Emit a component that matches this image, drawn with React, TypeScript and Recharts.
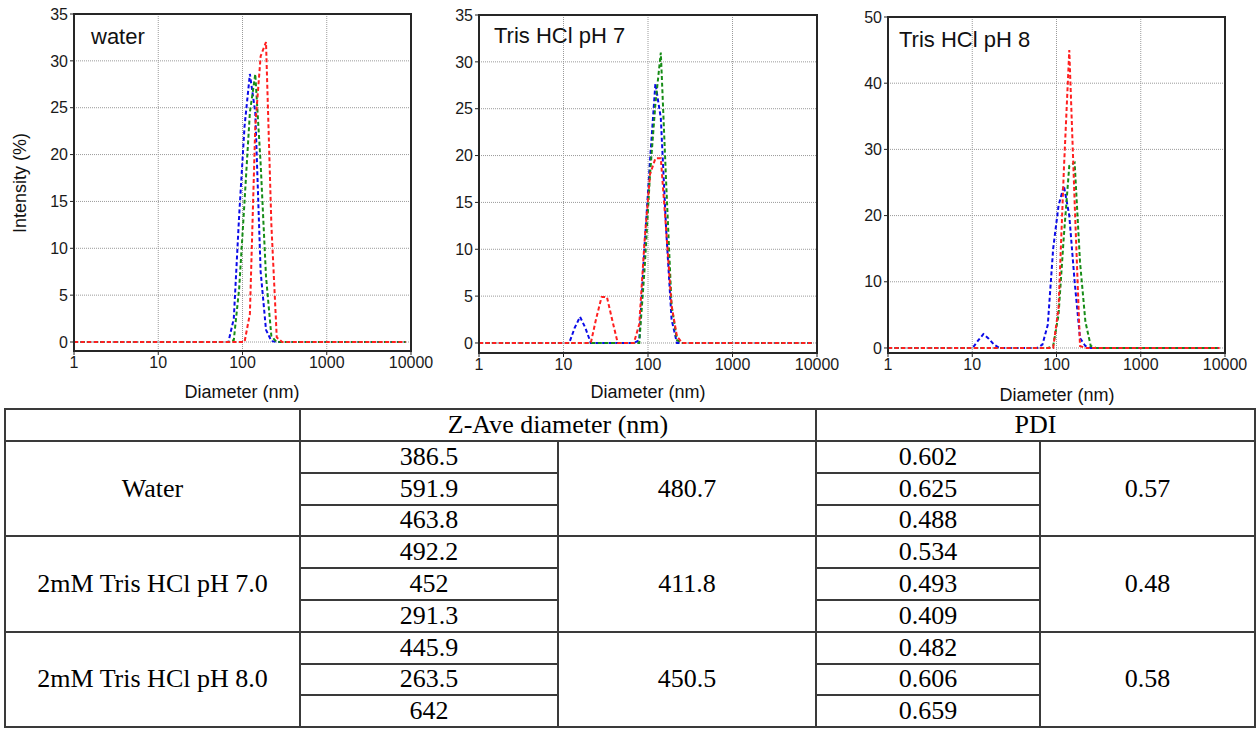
import React from 'react';
import { LineChart, Line, XAxis, YAxis, CartesianGrid } from 'recharts';

type Pt = { x: number; y: number };

// ---- DLS intensity distributions (diameter nm -> intensity %) ----
const waterBlue: Pt[] = [
  { x: 1, y: 0 }, { x: 68.06, y: 0 }, { x: 78.82, y: 2.5 }, { x: 91.28, y: 13.5 }, { x: 105.7, y: 23 },
  { x: 122.4, y: 28.6 }, { x: 141.8, y: 24.5 }, { x: 164.2, y: 7.5 }, { x: 190.1, y: 1.3 },
  { x: 220.2, y: 0.1 }, { x: 255, y: 0 }, { x: 8635, y: 0 },
];
const waterGreen: Pt[] = [
  { x: 1, y: 0 }, { x: 68.06, y: 0 }, { x: 78.82, y: 0.2 }, { x: 91.28, y: 5.7 }, { x: 105.7, y: 15 },
  { x: 122.4, y: 24.5 }, { x: 141.8, y: 28.6 }, { x: 164.2, y: 19 }, { x: 190.1, y: 7 },
  { x: 220.2, y: 0.6 }, { x: 255, y: 0 }, { x: 8635, y: 0 },
];
const waterRed: Pt[] = [
  { x: 1, y: 0 }, { x: 105.7, y: 0 }, { x: 122.4, y: 3 }, { x: 141.8, y: 23 }, { x: 164.2, y: 30.5 },
  { x: 190.1, y: 32 }, { x: 220.2, y: 12.5 }, { x: 255, y: 0.5 }, { x: 295.3, y: 0 }, { x: 8635, y: 0 },
];

const tris7Blue: Pt[] = [
  { x: 1, y: 0 }, { x: 11.7, y: 0 }, { x: 13.54, y: 1.6 }, { x: 15.69, y: 2.8 }, { x: 18.17, y: 1.6 },
  { x: 21.04, y: 0 }, { x: 68.06, y: 0 }, { x: 78.82, y: 0.3 }, { x: 91.28, y: 10.5 }, { x: 105.7, y: 19.5 },
  { x: 122.4, y: 27.7 }, { x: 141.8, y: 24 }, { x: 164.2, y: 12 }, { x: 190.1, y: 2.5 },
  { x: 220.2, y: 0 }, { x: 8635, y: 0 },
];
const tris7Green: Pt[] = [
  { x: 1, y: 0 }, { x: 78.82, y: 0 }, { x: 91.28, y: 8 }, { x: 105.7, y: 18 }, { x: 122.4, y: 25.5 },
  { x: 141.8, y: 31 }, { x: 164.2, y: 17 }, { x: 190.1, y: 4 }, { x: 220.2, y: 0.3 },
  { x: 255, y: 0 }, { x: 8635, y: 0 },
];
const tris7Red: Pt[] = [
  { x: 1, y: 0 }, { x: 21.04, y: 0 }, { x: 24.36, y: 2.6 }, { x: 28.21, y: 4.9 }, { x: 32.67, y: 4.9 },
  { x: 37.84, y: 2.4 }, { x: 43.82, y: 0 }, { x: 68.06, y: 0 }, { x: 78.82, y: 2 }, { x: 91.28, y: 11 },
  { x: 105.7, y: 18 }, { x: 122.4, y: 19.7 }, { x: 141.8, y: 19.7 }, { x: 164.2, y: 12 },
  { x: 190.1, y: 4 }, { x: 220.2, y: 0.7 }, { x: 255, y: 0 }, { x: 8635, y: 0 },
];

const tris8Blue: Pt[] = [
  { x: 1, y: 0 }, { x: 10.1, y: 0 }, { x: 11.7, y: 1.1 }, { x: 13.54, y: 2.1 }, { x: 15.69, y: 1.4 },
  { x: 18.17, y: 0.5 }, { x: 21.04, y: 0 }, { x: 58.77, y: 0 }, { x: 68.06, y: 0.5 }, { x: 78.82, y: 3.5 },
  { x: 91.28, y: 15 }, { x: 105.7, y: 21.5 }, { x: 122.4, y: 24.5 }, { x: 141.8, y: 20 },
  { x: 164.2, y: 10 }, { x: 190.1, y: 1.5 }, { x: 220.2, y: 0.3 }, { x: 255, y: 0 }, { x: 8635, y: 0 },
];
const tris8Green: Pt[] = [
  { x: 1, y: 0 }, { x: 78.82, y: 0 }, { x: 91.28, y: 0.3 }, { x: 105.7, y: 5 }, { x: 122.4, y: 17 },
  { x: 141.8, y: 27.5 }, { x: 164.2, y: 28 }, { x: 190.1, y: 13 }, { x: 220.2, y: 4 },
  { x: 255, y: 0.3 }, { x: 295.3, y: 0 }, { x: 8635, y: 0 },
];
const tris8Red: Pt[] = [
  { x: 1, y: 0 }, { x: 91.28, y: 0 }, { x: 105.7, y: 6 }, { x: 122.4, y: 27 }, { x: 141.8, y: 45 },
  { x: 164.2, y: 22 }, { x: 190.1, y: 0.3 }, { x: 220.2, y: 0 }, { x: 8635, y: 0 },
];

const xTicks = [1, 10, 100, 1000, 10000];
const yTicks35 = [0, 5, 10, 15, 20, 25, 30, 35];
const yTicks50 = [0, 10, 20, 30, 40, 50];

// ---- Table ----
const groups = ['Water', '2mM Tris HCl pH 7.0', '2mM Tris HCl pH 8.0'];
const zAve = [['386.5', '591.9', '463.8'], ['492.2', '452', '291.3'], ['445.9', '263.5', '642']];
const zAveMean = ['480.7', '411.8', '450.5'];
const pdi = [['0.602', '0.625', '0.488'], ['0.534', '0.493', '0.409'], ['0.482', '0.606', '0.659']];
const pdiMean = ['0.57', '0.48', '0.58'];

const BLUE = '#0a0ae8';
const GREEN = '#168c16';
const RED = '#ff1f1f';
const SANS = '"Liberation Sans", Arial, sans-serif';
const SERIF = '"Liberation Serif", "Times New Roman", serif';

type PanelProps = {
  l: number; t: number; r: number; b: number;
  yMin: number; yMax: number; yTicks: number[];
  blue: Pt[]; green: Pt[]; red: Pt[];
  title: string; titleX: number; titleY: number;
  xLabelX: number; xLabelY: number;
};

function Panel(p: PanelProps) {
  const svgLeft = p.l - 70;
  const H = 405;
  const W = p.r - p.l + 70 + 30;
  const dash = '4 2.6';
  return (
    <>
      <div style={{ position: 'absolute', left: svgLeft, top: 0 }}>
        <LineChart width={W} height={H} margin={{ top: p.t, left: 10, right: 30, bottom: H - p.b - 30 }}>
          <CartesianGrid stroke="#9a9a9a" strokeDasharray="1 1" strokeWidth={1} />
          <XAxis
            type="number" dataKey="x" scale="log" domain={[1, 10000]} ticks={xTicks}
            allowDataOverflow height={30} tickSize={4} tickMargin={2}
            axisLine={{ stroke: '#222', strokeWidth: 2 }} tickLine={{ stroke: '#222' }}
            tick={{ fill: '#1a1a1a', fontSize: 16, fontFamily: SANS }} interval={0}
          />
          <YAxis
            type="number" dataKey="y" domain={[p.yMin, p.yMax]} ticks={p.yTicks}
            allowDataOverflow width={60} tickSize={4} tickMargin={2}
            axisLine={{ stroke: '#222', strokeWidth: 2 }} tickLine={{ stroke: '#222' }}
            tick={{ fill: '#1a1a1a', fontSize: 16, fontFamily: SANS }} interval={0}
          />
          <Line data={p.blue} dataKey="y" type="linear" stroke={BLUE} strokeWidth={2} strokeDasharray={dash} dot={false} isAnimationActive={false} />
          <Line data={p.green} dataKey="y" type="linear" stroke={GREEN} strokeWidth={2} strokeDasharray={dash} dot={false} isAnimationActive={false} />
          <Line data={p.red} dataKey="y" type="linear" stroke={RED} strokeWidth={2} strokeDasharray={dash} dot={false} isAnimationActive={false} />
        </LineChart>
      </div>
      <div style={{
        position: 'absolute', left: p.l - 1, top: p.t - 1, width: p.r - p.l + 2, height: p.b - p.t + 2,
        border: '2px solid #262626', boxSizing: 'border-box', pointerEvents: 'none',
      }} />
      <div style={{
        position: 'absolute', left: p.titleX, top: p.titleY, transform: 'translateY(-50%)',
        fontFamily: SANS, fontSize: 22, color: '#111', whiteSpace: 'nowrap', lineHeight: 1,
      }}>{p.title}</div>
      <div style={{
        position: 'absolute', left: p.xLabelX, top: p.xLabelY, transform: 'translate(-50%, -50%)',
        fontFamily: SANS, fontSize: 18, color: '#111', whiteSpace: 'nowrap', lineHeight: 1,
      }}>Diameter (nm)</div>
    </>
  );
}

const cellBorder = '2px solid #3a3a3a';
const td: React.CSSProperties = {
  border: cellBorder, textAlign: 'center', verticalAlign: 'middle', padding: 0,
  fontFamily: SERIF, fontSize: 26, color: '#000', lineHeight: 1, whiteSpace: 'nowrap',
};

function ResultsTable() {
  const rows: React.ReactNode[] = [];
  groups.forEach((g, gi) => {
    [0, 1, 2].forEach((k) => {
      rows.push(
        <tr key={`${gi}-${k}`} style={{ height: 31.8 }}>
          {k === 0 && <td style={td} rowSpan={3}>{g}</td>}
          <td style={td}>{zAve[gi][k]}</td>
          {k === 0 && <td style={td} rowSpan={3}>{zAveMean[gi]}</td>}
          <td style={td}>{pdi[gi][k]}</td>
          {k === 0 && <td style={td} rowSpan={3}>{pdiMean[gi]}</td>}
        </tr>
      );
    });
  });
  return (
    <table style={{
      position: 'absolute', left: 4, top: 408, width: 1250, borderCollapse: 'collapse', tableLayout: 'fixed',
    }}>
      <colgroup>
        <col style={{ width: 295 }} />
        <col style={{ width: 258 }} />
        <col style={{ width: 258 }} />
        <col style={{ width: 224 }} />
        <col style={{ width: 215 }} />
      </colgroup>
      <tbody>
        <tr style={{ height: 32 }}>
          <td style={td}></td>
          <td style={td} colSpan={2}>Z-Ave diameter (nm)</td>
          <td style={td} colSpan={2}>PDI</td>
        </tr>
        {rows}
      </tbody>
    </table>
  );
}

export default function App() {
  return (
    <div style={{ position: 'absolute', left: 0, top: 0, width: 1260, height: 729, background: '#fff', overflow: 'hidden' }}>
      <Panel l={74} t={14} r={411} b={351} yMin={-0.96} yMax={35} yTicks={yTicks35}
        blue={waterBlue} green={waterGreen} red={waterRed}
        title="water" titleX={91} titleY={37} xLabelX={242} xLabelY={392} />
      <Panel l={479} t={15} r={817} b={353} yMin={-1.07} yMax={35} yTicks={yTicks35}
        blue={tris7Blue} green={tris7Green} red={tris7Red}
        title="Tris HCl pH 7" titleX={494} titleY={36} xLabelX={648} xLabelY={392} />
      <Panel l={888} t={17} r={1225} b={353} yMin={-0.76} yMax={50} yTicks={yTicks50}
        blue={tris8Blue} green={tris8Green} red={tris8Red}
        title="Tris HCl pH 8" titleX={899} titleY={40} xLabelX={1057} xLabelY={395} />
      <div style={{
        position: 'absolute', left: 20, top: 183, transform: 'translate(-50%, -50%) rotate(-90deg)',
        fontFamily: SANS, fontSize: 18, color: '#111', whiteSpace: 'nowrap', lineHeight: 1,
      }}>Intensity (%)</div>
      <ResultsTable />
    </div>
  );
}
